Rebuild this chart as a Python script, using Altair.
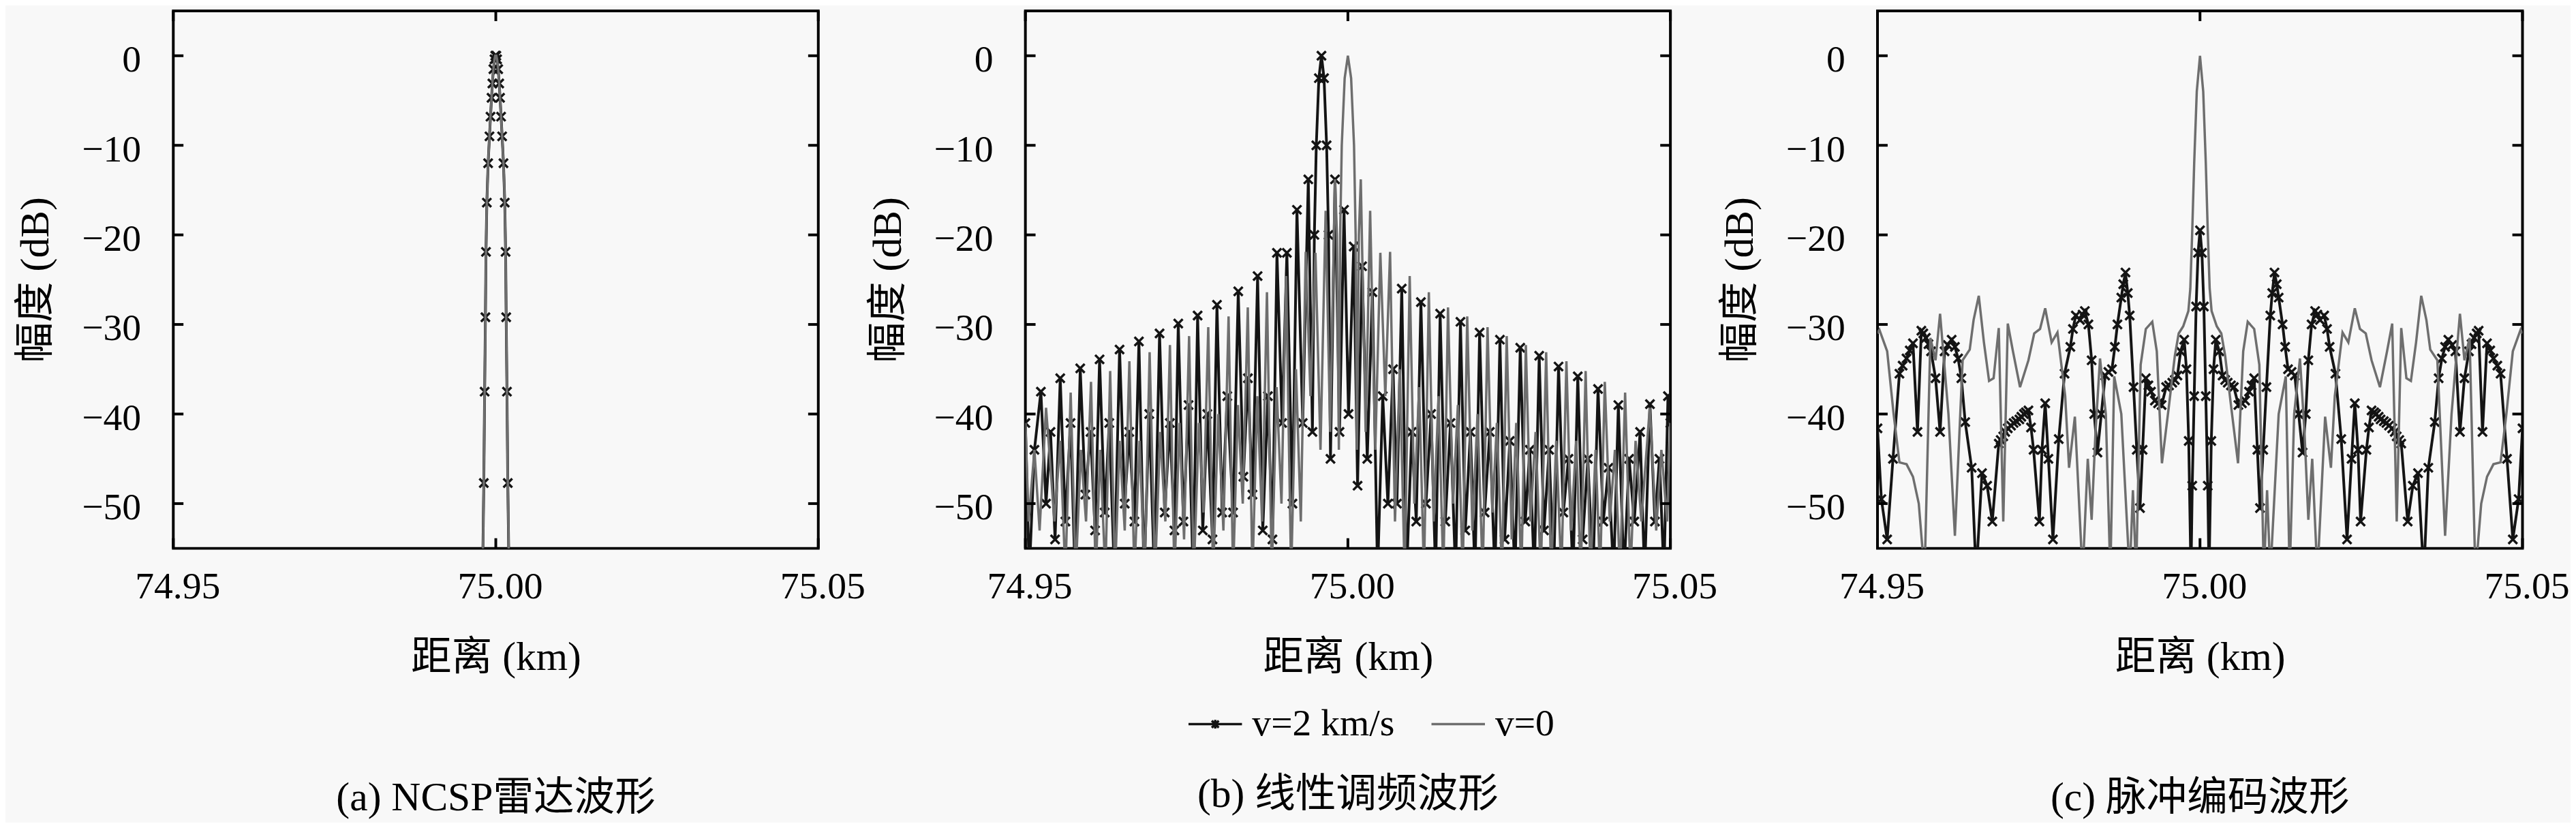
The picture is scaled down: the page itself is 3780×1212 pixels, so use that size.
import altair as alt
import pandas as pd

FONT = "Liberation Serif, Noto Sans CJK SC"
W, H = 953, 794

X_TICKS = [74.95, 75.0, 75.05]
Y_TICKS = [0, -10, -20, -30, -40, -50]
SERIES = ["v=2 km/s", "v=0"]
CAPTIONS = ["(a) NCSP雷达波形", "(b) 线性调频波形", "(c) 脉冲编码波形"]

# ---- panel (a): NCSP, both speeds give the same narrow main lobe (right half, metres from 75 km)
a_m = [0.08, 0.2, 0.37, 0.53, 0.66, 0.82, 0.98, 1.19, 1.39, 1.52, 1.61, 1.73, 1.86, 2.05]
a_db = [0, -0.4, -1.5, -3.1, -4.7, -6.8, -9.0, -12.0, -16.4, -21.9, -29.2, -37.5, -47.7, -58]

# ---- panel (b): LFM, v=0 (symmetric, right half) in metres from 75 km
gb_m = [0, 0.5, 0.95, 1.2, 1.4, 1.7, 2.0, 2.75, 3.45, 4.25, 5.03, 5.8, 6.54, 7.3, 8.05, 8.8,
        9.58, 10.3, 11.05, 11.8, 12.55, 13.3, 14.05, 14.8, 15.52, 16.3, 17.05, 17.8, 18.5,
        19.3, 20.1, 20.9, 21.65, 22.4, 23.1, 23.9, 24.62, 25.4, 26.1, 26.9, 27.59, 28.3, 29.1,
        29.9, 30.74, 31.5, 32.3, 33.1, 33.88, 34.6, 35.4, 36.1, 36.86, 37.6, 38.4, 39.1, 39.83,
        40.6, 41.4, 42.2, 42.98, 43.8, 44.6, 45.5, 46.1, 46.8, 47.8, 48.6, 49.5, 50.0]
gb_db = [0, -2.5, -10, -20, -44, -20, -13.8, -42, -17.3, -44, -22.0, -38, -21.9, -52, -35, -58,
         -24.6, -50, -37, -58, -26.4, -52, -38, -58, -28.1, -50, -39, -58, -29.1,
         -53, -40, -58, -30.3, -51, -41, -58, -31.3, -54, -41, -58, -32.3, -52, -42,
         -58, -33.1, -58, -43, -58, -34.1, -53, -43, -58, -35.2, -58, -44, -58, -36.4,
         -52, -44, -58, -37.6, -58, -43, -52, -46, -39.3, -53, -44, -52, -41]

# ---- panel (b): LFM, v=2 km/s (full curve) in metres from 75 km
bb_m = [-50.0, -49.4, -48.6, -47.6, -46.8, -46.1, -45.4, -44.6, -43.8, -43.0, -42.3, -41.5,
        -40.7, -39.9, -39.2, -38.5, -37.7, -37.0, -36.2, -35.4, -34.6, -33.9, -33.1, -32.4,
        -31.6, -30.8, -30.0, -29.2, -28.4, -27.6, -26.9, -26.3, -25.5, -24.7, -24.0, -23.3,
        -22.5, -21.8, -21.0, -20.3, -19.5, -18.7, -17.8, -17.0, -16.2, -15.5, -14.8, -14.0,
        -13.2, -12.4, -11.7, -11.0, -10.2, -9.46, -8.6, -7.9, -7.0, -6.14, -5.5, -5.2, -4.9,
        -4.5, -4.1, -3.7, -3.3, -3.0, -2.7, -2.0, -1.3, -0.6, 0.1, 0.9, 1.5, 2.2, 3.0, 3.8,
        4.6, 5.4, 6.2, 7.0, 7.6, 8.35, 9.1, 9.9, 10.6, 11.32, 12.1, 12.9, 13.6, 14.3, 15.1,
        15.9, 16.7, 17.45, 18.2, 19.0, 19.7, 20.42, 21.2, 22.0, 22.8, 23.57, 24.3, 25.1, 25.9,
        26.72, 27.5, 28.2, 28.9, 29.66, 30.4, 31.2, 31.9, 32.66, 33.4, 34.2, 34.9, 35.64, 36.4,
        37.2, 38.0, 38.78, 39.6, 40.4, 41.2, 41.93, 42.8, 43.6, 44.4, 45.3, 46.0, 46.83, 47.6,
        48.3, 49.0, 49.62, 50.0]
bb_db = [-41, -58, -44, -37.5, -50, -42, -54, -36.0, -52, -41, -58, -34.9,
         -49, -42, -53, -33.9, -51, -41, -58, -32.8, -50, -42, -52, -31.9,
         -58, -40, -58, -31.0, -51, -41, -53, -29.9, -52, -39, -58, -29.0,
         -53, -40, -54, -27.8, -51, -38, -51, -26.3, -47, -36, -49, -24.6,
         -53, -38, -54, -22.0, -41, -22.0, -50, -17.2, -41, -13.8, -42, -20, -10,
         -2.5, 0, -2.5, -10, -20, -45, -13.8, -42, -17.2, -40, -21.3, -48, -23.5, -45, -26.4,
         -58, -38, -50, -35, -50, -26.0, -58, -42, -52, -27.5, -50, -40, -58, -28.8, -52,
         -41, -58, -29.7, -53, -42, -58, -30.9, -51, -42, -58, -31.7, -54, -43, -58,
         -32.6, -52, -44, -58, -33.5, -53, -44, -58, -34.7, -51, -45, -58, -35.8, -54,
         -45, -58, -37.2, -52, -46, -58, -39.0, -58, -45, -52, -42, -58, -38.9, -52,
         -45, -58, -38.0, -41]

# ---- panel (c): phase code, v=0 (symmetric, right half)
gc_m = [0, 0.5, 0.9, 1.2, 1.5, 1.8, 2.6, 3.3, 3.9, 4.8, 5.9, 6.7, 7.4, 8.4, 9.2, 9.9, 10.4,
        10.9, 12.2, 13.3, 13.9, 14.6, 15.5, 16.2, 16.8, 17.4, 18.2, 19.4, 20.3, 20.9, 22.1,
        23.0, 24.0, 24.8, 25.7, 26.6, 27.9, 29.0, 29.8, 30.5, 31.2, 32.0, 32.7, 33.5, 34.3,
        35.1, 35.7, 36.8, 38.0, 39.0, 40.3, 41.0, 41.8, 42.7, 43.6, 44.5, 45.5, 46.6, 47.5,
        48.5, 49.7, 50.0]
gc_db = [0, -4, -12, -19.5, -26, -28.5, -30.2, -31, -33.5, -39, -45.5, -33, -29.7, -30.5,
         -34.5, -58, -48.5, -58, -40, -35.8, -58, -40, -33.8, -42, -51.8, -45, -58, -40.3,
         -46, -38, -30.9, -32, -28.2, -30.5, -31, -34, -37, -33, -29.9, -52, -30.4, -36,
         -36.3, -32, -26.8, -29.5, -32.8, -34, -53.6, -40, -28.8, -34, -31.5, -58, -50, -47,
         -45.6, -45.4, -40, -33, -30.6, -31]

# ---- panel (c): phase code, v=2 km/s (symmetric, right half)
bc_m = [0, 0.3, 0.6, 0.9, 1.2, 1.4, 1.75, 2.1, 2.45, 3.0, 3.5, 3.9, 4.3, 4.8, 5.25, 5.95,
        6.5, 7.0, 7.6, 8.0, 8.4, 8.9, 9.3, 9.8, 10.3, 10.9, 11.2, 11.55, 11.9, 12.2, 12.8,
        13.2, 13.65, 14.2, 14.7, 15.3, 15.9, 16.4, 16.8, 17.3, 17.85, 18.2, 18.6, 19.25,
        19.7, 20.1, 21.0, 21.9, 22.8, 23.5, 24.0, 24.5, 24.9, 25.8, 26.2, 26.6, 27.0, 27.3,
        27.7, 28.0, 28.5, 28.9, 29.3, 29.8, 30.2, 30.5, 30.9, 31.2, 32.2, 33.0, 33.8, 34.7,
        35.4, 36.4, 37.0, 37.5, 38.0, 38.5, 39.1, 39.6, 40.3, 41.0, 41.7, 42.1, 42.5, 42.9,
        43.2, 43.8, 44.5, 45.0, 45.5, 46.1, 46.6, 47.6, 48.5, 49.4, 50.0]
bc_db = [-19.5, -22, -28, -38, -48, -58, -43, -35, -31.7, -33, -35.7, -36.2, -36.5, -36.8,
         -37, -39, -38.8, -38.5, -37.5, -36.8, -36, -44, -50.5, -44, -37, -29, -26.5, -24.2,
         -25.5, -27, -30, -32.5, -35, -35.3, -35.7, -40, -44.3, -40, -34, -30, -28.5, -28.9,
         -29.5, -29, -30.5, -32.5, -35.5, -42.8, -54, -45, -38.8, -44, -52, -44, -41.5,
         -39.6, -39.8, -40, -40.3, -40.6, -40.8, -41, -41.3, -41.6, -42, -42.5, -42.9, -43.3,
         -52, -48, -46.6, -58, -46, -40.9, -36, -33.8, -32.5, -31.7, -32.3, -33, -42, -36,
         -33, -32.2, -31.5, -31, -30.7, -42, -32.1, -32.9, -33.8, -34.6, -35.5, -45, -54,
         -49.5, -41.6]


def mirror(m, d):
    """Symmetric curve: right half as read, left half is its reflection about 75 km."""
    left = [(-a, b) for a, b in zip(m[::-1], d[::-1]) if a > 0]
    return left + list(zip(m, d))


def frame(pairs, series):
    return pd.DataFrame({
        "x": [75 + a / 1000 for a, _ in pairs],
        "db": [b for _, b in pairs],
        "s": series,
        "mk": [b > -57 for _, b in pairs],
    })


df_a = pd.concat([frame(mirror(a_m, a_db), "v2"), frame(mirror(a_m, a_db), "v0")])
df_b = pd.concat([frame(list(zip(bb_m, bb_db)), "v2"), frame(mirror(gb_m, gb_db), "v0")])
df_c = pd.concat([frame(mirror(bc_m, bc_db), "v2"), frame(mirror(gc_m, gc_db), "v0")])

XPATH = "M-1,-1L1,1M-1,1L1,-1"
LEG_P1 = "M-1,0L1,0M-0.13,-0.13L0.13,0.13M0.13,-0.13L-0.13,0.13M0,-0.16L0,0.16"
LEG_P2 = "M-1,0L1,0"
BLACK = "#141414"
GRAY = "#6e6e6e"


def panel(df, caption, cap_offset, legend=False):
    xs = alt.Scale(domain=[74.95, 75.05], nice=False, zero=False)
    ys = alt.Scale(domain=[-55, 5], nice=False, zero=False)
    common = dict(ticks=False, domain=False, grid=False, labelOverlap=False,
                  labelFont=FONT, titleFont=FONT, labelFontSize=56, titleFontSize=60,
                  labelColor="black", titleColor="black", titleFontWeight="normal")
    xax = alt.Axis(values=X_TICKS, format=".2f", title="距离 (km)", labelFlush=False,
                   labelPadding=29, titlePadding=48, labelOffset=6, **common)
    yax = alt.Axis(values=Y_TICKS, title="幅度 (dB)", labelPadding=48, titlePadding=36,
                   labelOffset=6, **common)
    X = alt.X("x:Q", scale=xs, axis=xax)
    Y = alt.Y("db:Q", scale=ys, axis=yax)
    base = alt.Chart(df)
    layers = [
        base.transform_filter("datum.s == 'v2'").mark_line(
            color=BLACK, strokeWidth=4, clip=True).encode(x=X, y=Y),
        base.transform_filter("datum.s == 'v2' && datum.mk").mark_point(
            shape=XPATH, filled=False, color=BLACK, strokeWidth=3.5, size=170, opacity=1,
            clip=True).encode(x=X, y=Y),
        base.transform_filter("datum.s == 'v0'").mark_line(
            color=GRAY, strokeWidth=3.5, clip=True).encode(x=X, y=Y),
    ]
    yt = alt.Chart(pd.DataFrame({"t": Y_TICKS}))
    xt = alt.Chart(pd.DataFrame({"t": X_TICKS}))
    YT = alt.Y("t:Q", scale=ys, axis=yax)
    XT = alt.X("t:Q", scale=xs, axis=xax)
    layers += [
        yt.mark_rule(color="black", strokeWidth=4).encode(y=YT, x=alt.value(0), x2=alt.value(15)),
        yt.mark_rule(color="black", strokeWidth=4).encode(y=YT, x=alt.value(W - 15), x2=alt.value(W)),
        xt.mark_rule(color="black", strokeWidth=4).encode(x=XT, y=alt.value(0), y2=alt.value(15)),
        xt.mark_rule(color="black", strokeWidth=4).encode(x=XT, y=alt.value(H - 15), y2=alt.value(H)),
    ]
    if legend:
        leg = alt.Legend(title=None, orient="none", legendX=239, legendY=1012,
                         direction="horizontal", labelFont=FONT, labelFontSize=56,
                         labelColor="black", labelOffset=13, columnPadding=47,
                         symbolStrokeWidth=3.5, symbolSize=6241, labelLimit=0)
        layers.append(
            alt.Chart(pd.DataFrame({"s": SERIES})).transform_filter("false").mark_point(
                filled=False, size=6241, strokeWidth=3.5, opacity=1).encode(
                color=alt.Color("s:N", scale=alt.Scale(domain=SERIES, range=[BLACK, GRAY]), legend=leg),
                shape=alt.Shape("s:N", scale=alt.Scale(domain=SERIES, range=[LEG_P1, LEG_P2]), legend=leg),
            )
        )
    return alt.layer(*layers).properties(
        width=W, height=H,
        title=alt.TitleParams(caption, orient="bottom", anchor="middle", offset=cap_offset,
                              font=FONT, fontSize=60, fontWeight="normal", color="black"),
    )


chart = alt.hconcat(
    panel(df_a, CAPTIONS[0], 149),
    panel(df_b, CAPTIONS[1], 47, legend=True),
    panel(df_c, CAPTIONS[2], 149),
    spacing=0,
).resolve_scale(color="independent", shape="independent").configure(
    background="#f8f8f8",
    padding={"left": 13, "top": 0, "right": 0, "bottom": 0},
).configure_view(stroke="black", strokeWidth=4)

chart.save("out.html", embed_options={"renderer": "svg", "actions": False})
